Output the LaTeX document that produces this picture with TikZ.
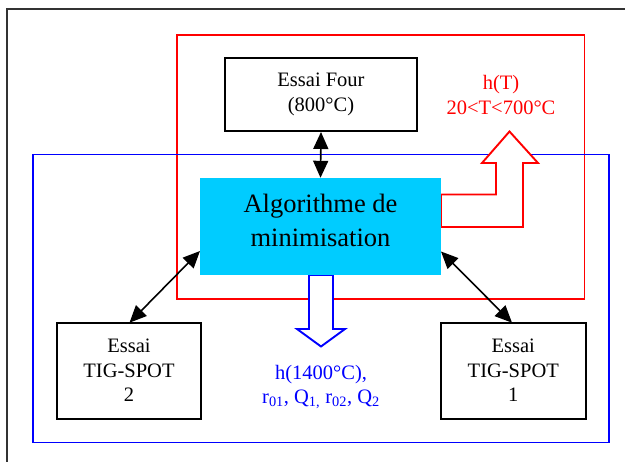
\documentclass[tikz,border=0pt]{standalone}
\usepackage{fontspec}
\setmainfont{Liberation Serif}
\usetikzlibrary{arrows.meta}
\definecolor{algocyan}{RGB}{0,204,255}
\tikzset{
  box/.style={draw=black, line width=2pt, minimum width=#1, inner sep=0pt, align=center,
    font=\fontsize{20.5}{24.5}\selectfont},
  frameline/.style={line width=1.9pt},
  dbl/.style={line width=1.6pt, {Triangle[length=17pt,width=15pt]}-{Triangle[length=17pt,width=15pt]}},
  lbl/.style={align=center, inner sep=0pt, font=\fontsize{20.5}{24.5}\selectfont},
  bigarrow/.style={line width=1.9pt, fill=white}
}
\begin{document}
\begin{tikzpicture}[x=1pt,y=-1pt]
\useasboundingbox (0,0) rectangle (625,462);
% outer frame (only top and left visible)
\draw[line width=2pt, black!80] (7,470) -- (7,9.5) -- (630,9.5);
% red and blue frames
\draw[red, frameline] (177,35) rectangle (584.5,299);
\draw[blue, frameline] (33,154.5) rectangle (609,442.5);
% boxes
\node[box=192pt, minimum height=73pt] (four) at (321,94.5) {Essai Four\\(800°C)};
\node[box=144pt, minimum height=96pt] (tig2) at (129,370.7) {Essai\\TIG-SPOT\\2};
\node[box=144.6pt, minimum height=96pt] (tig1) at (513.3,370.7) {Essai\\TIG-SPOT\\1};
% red block arrow
\draw[red, bigarrow] (441,227) -- (523,227) -- (523,163) -- (538,163) -- (509.5,131.5)
  -- (482,163) -- (496,163) -- (496,194.5) -- (441,194.5) -- cycle;
% blue block arrow
\draw[blue, bigarrow] (309,275) -- (333,275) -- (333,329) -- (345,329) -- (321,346.5)
  -- (297,329) -- (309,329) -- cycle;
% algorithm box
\node[fill=algocyan, minimum width=241pt, minimum height=97pt, inner sep=0pt] (algo) at (320.5,226.5) {};
\node[align=center, inner sep=0pt, font=\fontsize{26.5}{34}\selectfont] (algotext) at (320.5,220) {Algorithme de\\minimisation};
% labels
\node[lbl, text=red] (ht) at (501,95) {h(T)\\20<T<700°C};
\node[lbl, text=blue] (h1400) at (321,387) {h(1400°C),\\r\textsubscript{01}, Q\textsubscript{1,} r\textsubscript{02}, Q\textsubscript{2}};
% connectors
\coordinate (aL) at (200,251);
\coordinate (aR) at (441,251.5);
\coordinate (t2) at (129.5,322.7);
\coordinate (t1) at (512,322.7);
\draw[dbl] (four.south) -- (algo.north);
\draw[dbl] (t2) -- (aL);
\draw[dbl] (t1) -- (aR);
\end{tikzpicture}
\end{document}
